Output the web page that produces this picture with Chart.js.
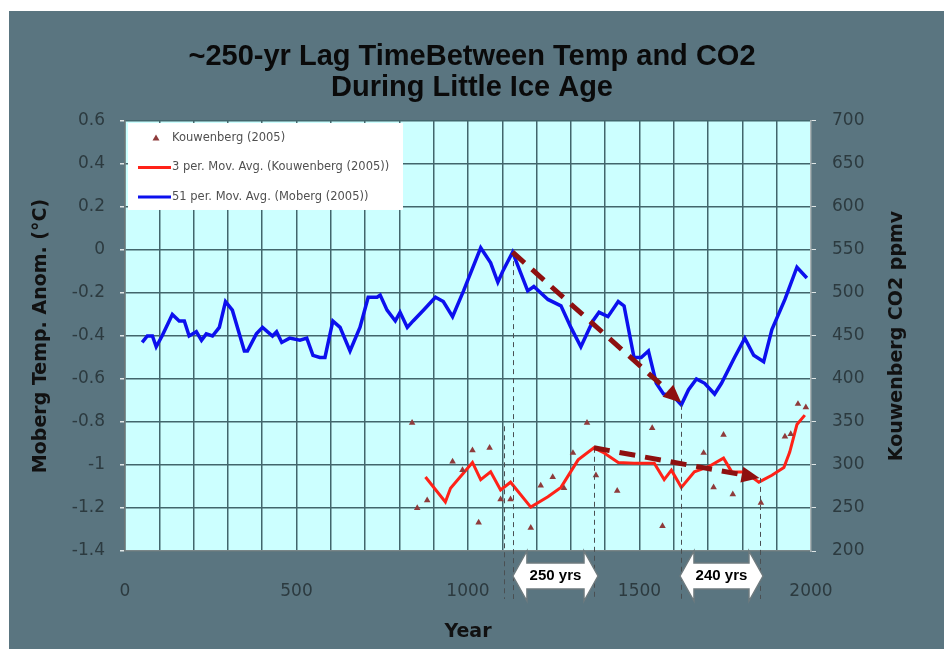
<!DOCTYPE html>
<html>
<head>
<meta charset="utf-8">
<script src="https://cdn.jsdelivr.net/npm/chart.js@4.4.1/dist/chart.umd.min.js"></script>
<style>
  html, body { margin: 0; padding: 0; background: #fff; }
</style>
</head>
<body>
<canvas id="lag-chart" width="944" height="649"></canvas>
<script>
// Moberg (2005), 51 yr moving average, temperature anomaly (°C)
const mobergYears = [50, 65, 80, 91, 108, 138, 158, 173, 187, 208, 223, 237, 255, 275, 293, 313, 348, 357, 383, 401,
  430, 442, 457, 480, 510, 530, 548, 568, 583, 606, 627, 656, 685, 709, 735, 744, 764, 788, 802, 823,
  840, 870, 905, 928, 955, 987, 1037, 1066, 1087, 1101, 1130, 1174, 1192, 1233, 1271, 1300, 1329, 1364, 1382, 1408,
  1438, 1455, 1484, 1505, 1526, 1549, 1570, 1599, 1622, 1643, 1666, 1690, 1719, 1739, 1777, 1807, 1833, 1862, 1886, 1924,
  1959, 1988];
const mobergTemp = [-0.43, -0.40, -0.40, -0.45, -0.40, -0.30, -0.33, -0.33, -0.40, -0.38, -0.42, -0.39, -0.40, -0.36, -0.24, -0.28, -0.47, -0.47, -0.39, -0.36,
  -0.40, -0.38, -0.43, -0.41, -0.42, -0.41, -0.49, -0.50, -0.50, -0.33, -0.36, -0.47, -0.36, -0.22, -0.22, -0.21, -0.28, -0.33, -0.29, -0.36,
  -0.33, -0.28, -0.22, -0.24, -0.31, -0.19, 0.01, -0.06, -0.15, -0.10, -0.01, -0.19, -0.17, -0.23, -0.26, -0.36, -0.45, -0.33, -0.29, -0.31,
  -0.24, -0.26, -0.50, -0.50, -0.47, -0.62, -0.67, -0.68, -0.72, -0.65, -0.60, -0.62, -0.67, -0.62, -0.50, -0.41, -0.49, -0.52, -0.37, -0.23,
  -0.08, -0.13];

// Kouwenberg (2005) stomata CO2 samples (ppmv)
const kouwYears = [837, 852, 881, 955, 984, 1013, 1031, 1063, 1095, 1124, 1183, 1212, 1247, 1280, 1306, 1347, 1373, 1435, 1537, 1567,
  1687, 1716, 1745, 1772, 1854, 1924, 1941, 1962, 1985];
const kouwCO2 = [349, 250, 259, 304, 294, 317, 233, 320, 260, 260, 227, 276, 286, 273, 314, 349, 288, 270, 343, 229,
  314, 274, 335, 266, 256, 333, 336, 371, 367];

// 3 point moving average of the samples
const avgYears = [876, 934, 949, 1013, 1037, 1066, 1095, 1124, 1183, 1233, 1271, 1321, 1367, 1397, 1438, 1484, 1543, 1572, 1593, 1622,
  1660, 1701, 1745, 1769, 1807, 1848, 1886, 1921, 1938, 1959, 1982];
const avgCO2 = [286, 257, 273, 303, 283, 292, 271, 280, 251, 263, 274, 306, 320, 314, 303, 302, 302, 283, 294, 274,
  292, 298, 308, 292, 292, 280, 288, 297, 315, 347, 358];

const yearLabels = [0, 500, 1000, 1500, 2000];

// lag annotations, in data units (year, temp anomaly)
const lagArrows = [
  { from: [1130, -0.01], to: [1622, -0.71] },
  { from: [1367, -0.92], to: [1850, -1.06] }
];
const markerYears = [1104, 1130, 1367, 1622, 1850];
const markerTemps = [-0.82, -0.01, -0.92, -0.72, -1.06];
const lagSpans = [
  { from: 1131, to: 1379, label: '250 yrs' },
  { from: 1618, to: 1860, label: '240 yrs' }
];

const toPoints = (xs, ys) => xs.map((x, i) => ({ x: x, y: ys[i] }));

const gridColor = '#42666c';
const tickText = '#2c3a3f';
const tickFont = { family: 'DejaVu Sans', size: 17 };
const titleFont = { family: 'DejaVu Sans', size: 19, weight: 'bold' };

const backdrop = {
  id: 'backdrop',
  beforeDraw(chart) {
    const { ctx, chartArea: a } = chart;
    ctx.save();
    ctx.fillStyle = '#ffffff';
    ctx.fillRect(0, 0, chart.width, chart.height);
    ctx.fillStyle = '#5a7580';
    ctx.fillRect(9, 11, chart.width - 9, chart.height - 11);
    ctx.fillStyle = '#ccffff';
    ctx.fillRect(a.left, a.top, a.right - a.left, a.bottom - a.top);
    ctx.restore();
  }
};

function blockArrow(ctx, x1, x2, yc, label) {
  const sh = 13, hh = 25, hl = 14;
  ctx.beginPath();
  ctx.moveTo(x1, yc);
  ctx.lineTo(x1 + hl, yc - hh);
  ctx.lineTo(x1 + hl, yc - sh);
  ctx.lineTo(x2 - hl, yc - sh);
  ctx.lineTo(x2 - hl, yc - hh);
  ctx.lineTo(x2, yc);
  ctx.lineTo(x2 - hl, yc + hh);
  ctx.lineTo(x2 - hl, yc + sh);
  ctx.lineTo(x1 + hl, yc + sh);
  ctx.lineTo(x1 + hl, yc + hh);
  ctx.closePath();
  ctx.fillStyle = '#ffffff';
  ctx.fill();
  ctx.strokeStyle = '#6d7a7e';
  ctx.lineWidth = 1.5;
  ctx.stroke();
  ctx.fillStyle = '#000';
  ctx.font = 'bold 15px "Liberation Sans"';
  ctx.textAlign = 'center';
  ctx.textBaseline = 'middle';
  ctx.fillText(label, (x1 + x2) / 2, yc);
}

const lagNotes = {
  id: 'lagNotes',
  afterDatasetsDraw(chart) {
    const { ctx, chartArea: a, scales: { x, y } } = chart;
    ctx.save();

    // thin dashed drop lines
    ctx.strokeStyle = '#4a4f52';
    ctx.lineWidth = 1;
    ctx.setLineDash([5, 4]);
    markerYears.forEach((yr, i) => {
      const px = Math.round(x.getPixelForValue(yr)) + 0.5;
      ctx.beginPath();
      ctx.moveTo(px, y.getPixelForValue(markerTemps[i]));
      ctx.lineTo(px, a.bottom + 48);
      ctx.stroke();
    });

    // thick dashed lag arrows
    ctx.strokeStyle = '#8e1010';
    ctx.fillStyle = '#8e1010';
    ctx.lineWidth = 5;
    lagArrows.forEach(ar => {
      const x0 = x.getPixelForValue(ar.from[0]), y0 = y.getPixelForValue(ar.from[1]);
      const x1 = x.getPixelForValue(ar.to[0]), y1 = y.getPixelForValue(ar.to[1]);
      const ang = Math.atan2(y1 - y0, x1 - x0);
      const head = 18;
      ctx.setLineDash([16, 10]);
      ctx.beginPath();
      ctx.moveTo(x0, y0);
      ctx.lineTo(x1 - head * Math.cos(ang), y1 - head * Math.sin(ang));
      ctx.stroke();
      ctx.setLineDash([]);
      ctx.beginPath();
      ctx.moveTo(x1, y1);
      ctx.lineTo(x1 - head * Math.cos(ang) + 8 * Math.sin(ang), y1 - head * Math.sin(ang) - 8 * Math.cos(ang));
      ctx.lineTo(x1 - head * Math.cos(ang) - 8 * Math.sin(ang), y1 - head * Math.sin(ang) + 8 * Math.cos(ang));
      ctx.closePath();
      ctx.fill();
    });
    ctx.setLineDash([]);

    // white double arrows under the axis
    lagSpans.forEach(s => {
      blockArrow(ctx, x.getPixelForValue(s.from), x.getPixelForValue(s.to), a.bottom + 25, s.label);
    });
    ctx.restore();
  }
};

const insetLegend = {
  id: 'insetLegend',
  afterDraw(chart) {
    const { ctx, chartArea: a } = chart;
    const bx = a.left + 3, by = a.top + 2;
    ctx.save();
    ctx.fillStyle = '#ffffff';
    ctx.fillRect(bx, by, 275, 87);
    ctx.font = '11.5px "DejaVu Sans"';
    ctx.textBaseline = 'middle';
    ctx.textAlign = 'left';
    chart.data.datasets.forEach((ds, i) => {
      const cy = by + 15 + i * 29.5;
      if (ds.showLine === false) {
        ctx.fillStyle = ds.backgroundColor;
        ctx.beginPath();
        ctx.moveTo(bx + 28, cy - 3.5);
        ctx.lineTo(bx + 31.5, cy + 2.5);
        ctx.lineTo(bx + 24.5, cy + 2.5);
        ctx.closePath();
        ctx.fill();
      } else {
        ctx.strokeStyle = ds.borderColor;
        ctx.lineWidth = 3;
        ctx.beginPath();
        ctx.moveTo(bx + 10, cy);
        ctx.lineTo(bx + 43, cy);
        ctx.stroke();
      }
      ctx.fillStyle = '#505050';
      ctx.fillText(ds.label, bx + 44, cy);
    });

    // right axis title reads bottom to top
    ctx.translate(897, (a.top + a.bottom) / 2);
    ctx.rotate(-Math.PI / 2);
    ctx.font = 'bold 19px "DejaVu Sans"';
    ctx.textAlign = 'center';
    ctx.fillStyle = '#111';
    ctx.fillText('Kouwenberg CO2 ppmv', 0, 0);
    ctx.restore();
  }
};

new Chart(document.getElementById('lag-chart'), {
  type: 'line',
  data: {
    datasets: [{
      label: 'Kouwenberg (2005)',
      data: toPoints(kouwYears, kouwCO2),
      yAxisID: 'y1',
      showLine: false,
      pointStyle: 'triangle',
      pointRadius: 3.8,
      pointBorderWidth: 0,
      backgroundColor: '#8e3b3b',
      borderColor: '#8e3b3b'
    }, {
      label: '3 per. Mov. Avg. (Kouwenberg (2005))',
      data: toPoints(avgYears, avgCO2),
      yAxisID: 'y1',
      borderColor: '#ff2218',
      borderWidth: 3,
      pointRadius: 0,
      tension: 0
    }, {
      label: '51 per. Mov. Avg. (Moberg (2005))',
      data: toPoints(mobergYears, mobergTemp),
      yAxisID: 'y',
      borderColor: '#0c10ee',
      borderWidth: 3.5,
      pointRadius: 0,
      tension: 0
    }]
  },
  options: {
    responsive: false,
    animation: false,
    layout: { padding: 0 },
    plugins: {
      legend: { display: false },
      tooltip: { enabled: false },
      title: {
        display: true,
        text: ['~250-yr Lag TimeBetween Temp and CO2', 'During Little Ice Age'],
        color: '#0a0a0a',
        font: { family: 'Liberation Sans', size: 29, weight: 'bold', lineHeight: 1.06 },
        padding: { top: 41.6, bottom: 17.9 }
      }
    },
    scales: {
      x: {
        type: 'linear',
        min: 0,
        max: 2000,
        ticks: {
          stepSize: 100,
          autoSkip: false,
          maxRotation: 0,
          padding: 30,
          color: tickText,
          font: tickFont,
          callback: v => yearLabels.includes(v) ? String(v) : ''
        },
        grid: { color: gridColor, lineWidth: 1.5, drawTicks: false },
        border: { color: '#7a8688', width: 1.5 },
        title: { display: true, text: 'Year', color: '#111', font: titleFont, padding: { top: 0, bottom: 6 } },
        afterFit(s) { s.height = 98; }
      },
      y: {
        position: 'left',
        min: -1.4,
        max: 0.6,
        ticks: {
          stepSize: 0.2,
          padding: 15,
          color: tickText,
          font: tickFont,
          callback: v => Math.round(v * 10) / 10
        },
        grid: { color: gridColor, lineWidth: 1.5, tickColor: '#dfe6e6', tickLength: 5 },
        border: { color: '#6b7577', width: 1.5 },
        title: { display: true, text: 'Moberg Temp. Anom. (°C)', color: '#111', font: titleFont, padding: { top: 30, bottom: 0 } },
        afterFit(s) { s.width = 125; }
      },
      y1: {
        position: 'right',
        min: 200,
        max: 700,
        ticks: { stepSize: 50, padding: 16, color: tickText, font: tickFont },
        grid: { drawOnChartArea: false, tickColor: '#dfe6e6', tickLength: 5 },
        border: { color: '#aab4b6', width: 1.5 },
        afterFit(s) { s.width = 133; }
      }
    }
  },
  plugins: [backdrop, lagNotes, insetLegend]
});
</script>
</body>
</html>
